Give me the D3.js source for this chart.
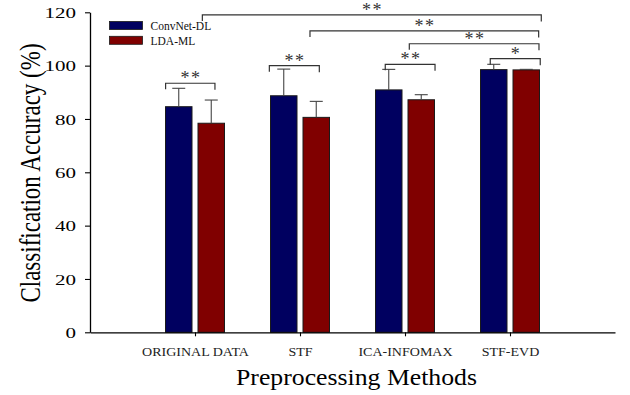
<!DOCTYPE html>
<html>
<head>
<meta charset="utf-8">
<script src="https://cdn.jsdelivr.net/npm/d3@7/dist/d3.min.js"></script>
<style>
  html, body { margin: 0; padding: 0; background: #fff; }
  svg { display: block; }
  text { font-family: "Liberation Serif", "Times New Roman", serif; }
</style>
</head>
<body>
<svg id="chart" width="630" height="395"></svg>
<script>
// ---- data ----
const categories = ["ORIGINAL DATA", "STF", "ICA-INFOMAX", "STF-EVD"];
const seriesNames = ["ConvNet-DL", "LDA-ML"];
const convnetMean = [84.6, 88.7, 90.9, 98.5];
const convnetErr  = [6.9, 10.0, 7.7, 2.0];
const ldaMean     = [78.4, 80.6, 87.2, 98.4];
const ldaErr      = [8.7, 6.0, 1.9, 0.2];
const yTicks = [0, 20, 40, 60, 80, 100, 120];
// significance brackets: endpoints in category units, level in %
const brackets = [
  { x1: 0.72, x2: 1.19, level: 93.4, label: "**" },
  { x1: 1.708, x2: 2.184, level: 100.0, label: "**" },
  { x1: 2.812, x2: 3.286, level: 100.5, label: "**" },
  { x1: 3.812, x2: 4.288, level: 102.6, label: "*" },
  { x1: 3.041, x2: 4.276, level: 108.2, label: "**" },
  { x1: 2.095, x2: 4.273, level: 113.0, label: "**" },
  { x1: 1.07, x2: 4.298, level: 119.0, label: "**" }
];
const colors = ["#000060", "#800000"];

// ---- layout ----
const svg = d3.select("#chart");
const x = d3.scaleLinear().domain([0, 5]).range([90, 615]);
const y = d3.scaleLinear().domain([0, 120]).range([332.3, 12.3]);
const barW = 26.5, barGap = 3;

const series = [
  { name: seriesNames[0], mean: convnetMean, err: convnetErr, off: -(barGap + barW) },
  { name: seriesNames[1], mean: ldaMean, err: ldaErr, off: barGap }
];

// bars
series.forEach((s, si) => {
  const g = svg.append("g");
  g.selectAll("rect").data(categories).join("rect")
    .attr("x", (d, i) => x(i + 1) + s.off)
    .attr("y", (d, i) => y(s.mean[i]))
    .attr("width", barW)
    .attr("height", (d, i) => y(0) - y(s.mean[i]))
    .attr("fill", colors[si])
    .attr("stroke", "#1a1a1a")
    .attr("stroke-width", 1);
  // error bars (upper only)
  const eg = svg.append("g").attr("stroke", "#444").attr("stroke-width", 1.1);
  categories.forEach((c, i) => {
    const cx = x(i + 1) + s.off + barW / 2;
    const top = y(s.mean[i] + s.err[i]);
    eg.append("line").attr("x1", cx).attr("x2", cx).attr("y1", y(s.mean[i])).attr("y2", top);
    eg.append("line").attr("x1", cx - 6.5).attr("x2", cx + 6.5).attr("y1", top).attr("y2", top);
  });
});

// axes
const yAxis = d3.axisLeft(y).tickValues(yTicks).tickSize(5).tickPadding(4).tickSizeOuter(0);
const gy = svg.append("g").attr("transform", `translate(${x(0)},0)`).call(yAxis);
gy.select(".domain").attr("stroke", "#000").attr("stroke-width", 1.3);
gy.selectAll(".tick line").attr("stroke", "#000").attr("stroke-width", 1.1);
gy.selectAll(".tick text").remove();
gy.selectAll(".tick").append("text")
  .attr("fill", "#000")
  .attr("text-anchor", "end")
  .attr("font-size", 15)
  .attr("transform", "translate(-14,5.2) scale(1.4,1)")
  .text(d => d);

const xAxis = d3.axisBottom(x).tickValues([1, 2, 3, 4]).tickSize(4).tickSizeOuter(0).tickFormat(d => categories[d - 1]);
const gx = svg.append("g").attr("transform", `translate(0,${y(0)})`).call(xAxis);
gx.select(".domain").attr("stroke", "#000").attr("stroke-width", 1.3);
gx.selectAll(".tick line").attr("stroke", "#000").attr("stroke-width", 1.1);
gx.selectAll(".tick text").remove();
gx.selectAll(".tick").append("text")
  .attr("fill", "#222")
  .attr("text-anchor", "middle")
  .attr("font-size", 11.5)
  .attr("transform", "translate(0,23.2) scale(1.22,1)")
  .text(d => categories[d - 1]);

// axis titles
svg.append("text")
  .attr("text-anchor", "middle")
  .attr("font-size", 23)
  .attr("fill", "#000")
  .attr("transform", "translate(356.5,385) scale(1.12,1)")
  .text("Preprocessing Methods");
svg.append("text")
  .attr("text-anchor", "middle")
  .attr("font-size", 23)
  .attr("fill", "#000")
  .attr("transform", "translate(40,173) rotate(-90) scale(1,1.3)")
  .text("Classification Accuracy (%)");

// legend
const lg = svg.append("g");
series.forEach((s, si) => {
  lg.append("rect").attr("x", 109.5).attr("y", 21.5 + si * 14.8).attr("width", 33).attr("height", 8)
    .attr("fill", colors[si]).attr("stroke", "#1a1a1a").attr("stroke-width", 0.8);
  lg.append("text").attr("x", 150.5).attr("y", 30 + si * 14.8).attr("font-size", 11.5).attr("fill", "#111")
    .text(s.name);
});

// significance brackets
const bg = svg.append("g");
brackets.forEach(b => {
  const x1 = x(b.x1), x2 = x(b.x2), yy = y(b.level);
  bg.append("path")
    .attr("d", `M${x1},${yy + 6} V${yy} H${x2} V${yy + 6.5}`)
    .attr("fill", "none").attr("stroke", "#333").attr("stroke-width", 1.2);
  bg.append("text")
    .attr("x", (x1 + x2) / 2 + 0.75).attr("y", yy + 1)
    .attr("text-anchor", "middle")
    .attr("font-size", 18).attr("letter-spacing", 1.5)
    .attr("fill", "#333")
    .text(b.label);
});
</script>
</body>
</html>
